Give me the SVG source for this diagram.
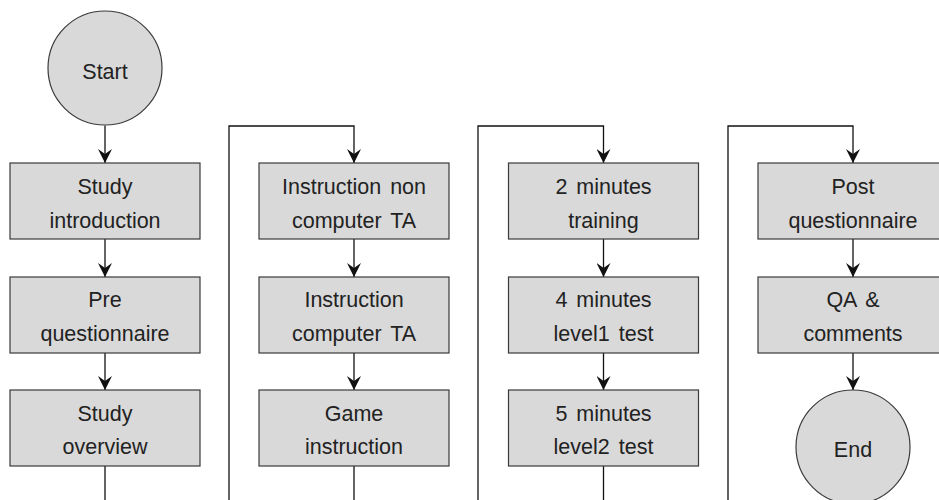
<svg xmlns="http://www.w3.org/2000/svg" width="939" height="500" viewBox="0 0 939 500">
<defs>
<style>
.n{fill:#d9d9d9;stroke:#3a3a3a;stroke-width:1.2}
.t{font-family:"Liberation Sans",Arial,sans-serif;font-size:21.5px;fill:#222;text-anchor:middle;word-spacing:3px}
.c{fill:none;stroke:#111;stroke-width:1.3}
</style>
<marker id="ah" markerUnits="userSpaceOnUse" markerWidth="14" markerHeight="14" viewBox="0 0 14 14" refX="14" refY="7" orient="auto">
<path d="M0,0 L14,7 L0,14 L5,7 z" fill="#111"/>
</marker>
</defs>
<rect width="939" height="500" fill="#fff"/>
<g id="connectors">
<path class="c" d="M105,125.5 V163" marker-end="url(#ah)"/>
<path class="c" d="M105,239 V277" marker-end="url(#ah)"/>
<path class="c" d="M105,353 V390" marker-end="url(#ah)"/>
<path class="c" d="M105,466 V510 H229 V126 H354 V163" marker-end="url(#ah)"/>
<path class="c" d="M354,239 V277" marker-end="url(#ah)"/>
<path class="c" d="M354,353 V390" marker-end="url(#ah)"/>
<path class="c" d="M354,466 V510 H478 V126 H603.5 V163" marker-end="url(#ah)"/>
<path class="c" d="M603.5,239 V277" marker-end="url(#ah)"/>
<path class="c" d="M603.5,353 V390" marker-end="url(#ah)"/>
<path class="c" d="M603.5,466 V510 H728 V126 H853 V163" marker-end="url(#ah)"/>
<path class="c" d="M853,239 V277" marker-end="url(#ah)"/>
<path class="c" d="M853,353 V390" marker-end="url(#ah)"/>
</g>
<g id="start"><circle class="n" cx="105" cy="68" r="57"/><text class="t" x="105" y="79">Start</text></g>
<g id="study-intro"><rect class="n" x="10" y="163" width="190" height="76"/><text class="t" x="105" y="194">Study</text><text class="t" x="105" y="228">introduction</text></g>
<g id="pre-q"><rect class="n" x="10" y="277" width="190" height="76"/><text class="t" x="105" y="307">Pre</text><text class="t" x="105" y="341">questionnaire</text></g>
<g id="study-overview"><rect class="n" x="10" y="390" width="190" height="76"/><text class="t" x="105" y="421">Study</text><text class="t" x="105" y="454">overview</text></g>
<g id="instr-noncomp"><rect class="n" x="259" y="163" width="190" height="76"/><text class="t" x="354" y="194">Instruction non</text><text class="t" x="354" y="228">computer TA</text></g>
<g id="instr-comp"><rect class="n" x="259" y="277" width="190" height="76"/><text class="t" x="354" y="307">Instruction</text><text class="t" x="354" y="341">computer TA</text></g>
<g id="game-instr"><rect class="n" x="259" y="390" width="190" height="76"/><text class="t" x="354" y="421">Game</text><text class="t" x="354" y="454">instruction</text></g>
<g id="training"><rect class="n" x="508.5" y="163" width="190" height="76"/><text class="t" x="603.5" y="194">2 minutes</text><text class="t" x="603.5" y="228">training</text></g>
<g id="level1"><rect class="n" x="508.5" y="277" width="190" height="76"/><text class="t" x="603.5" y="307">4 minutes</text><text class="t" x="603.5" y="341">level1 test</text></g>
<g id="level2"><rect class="n" x="508.5" y="390" width="190" height="76"/><text class="t" x="603.5" y="421">5 minutes</text><text class="t" x="603.5" y="454">level2 test</text></g>
<g id="post-q"><rect class="n" x="758" y="163" width="190" height="76"/><text class="t" x="853" y="194">Post</text><text class="t" x="853" y="228">questionnaire</text></g>
<g id="qa"><rect class="n" x="758" y="277" width="190" height="76"/><text class="t" x="853" y="307">QA &amp;</text><text class="t" x="853" y="341">comments</text></g>
<g id="end"><circle class="n" cx="853" cy="447" r="57"/><text class="t" x="853" y="457">End</text></g>
</svg>
